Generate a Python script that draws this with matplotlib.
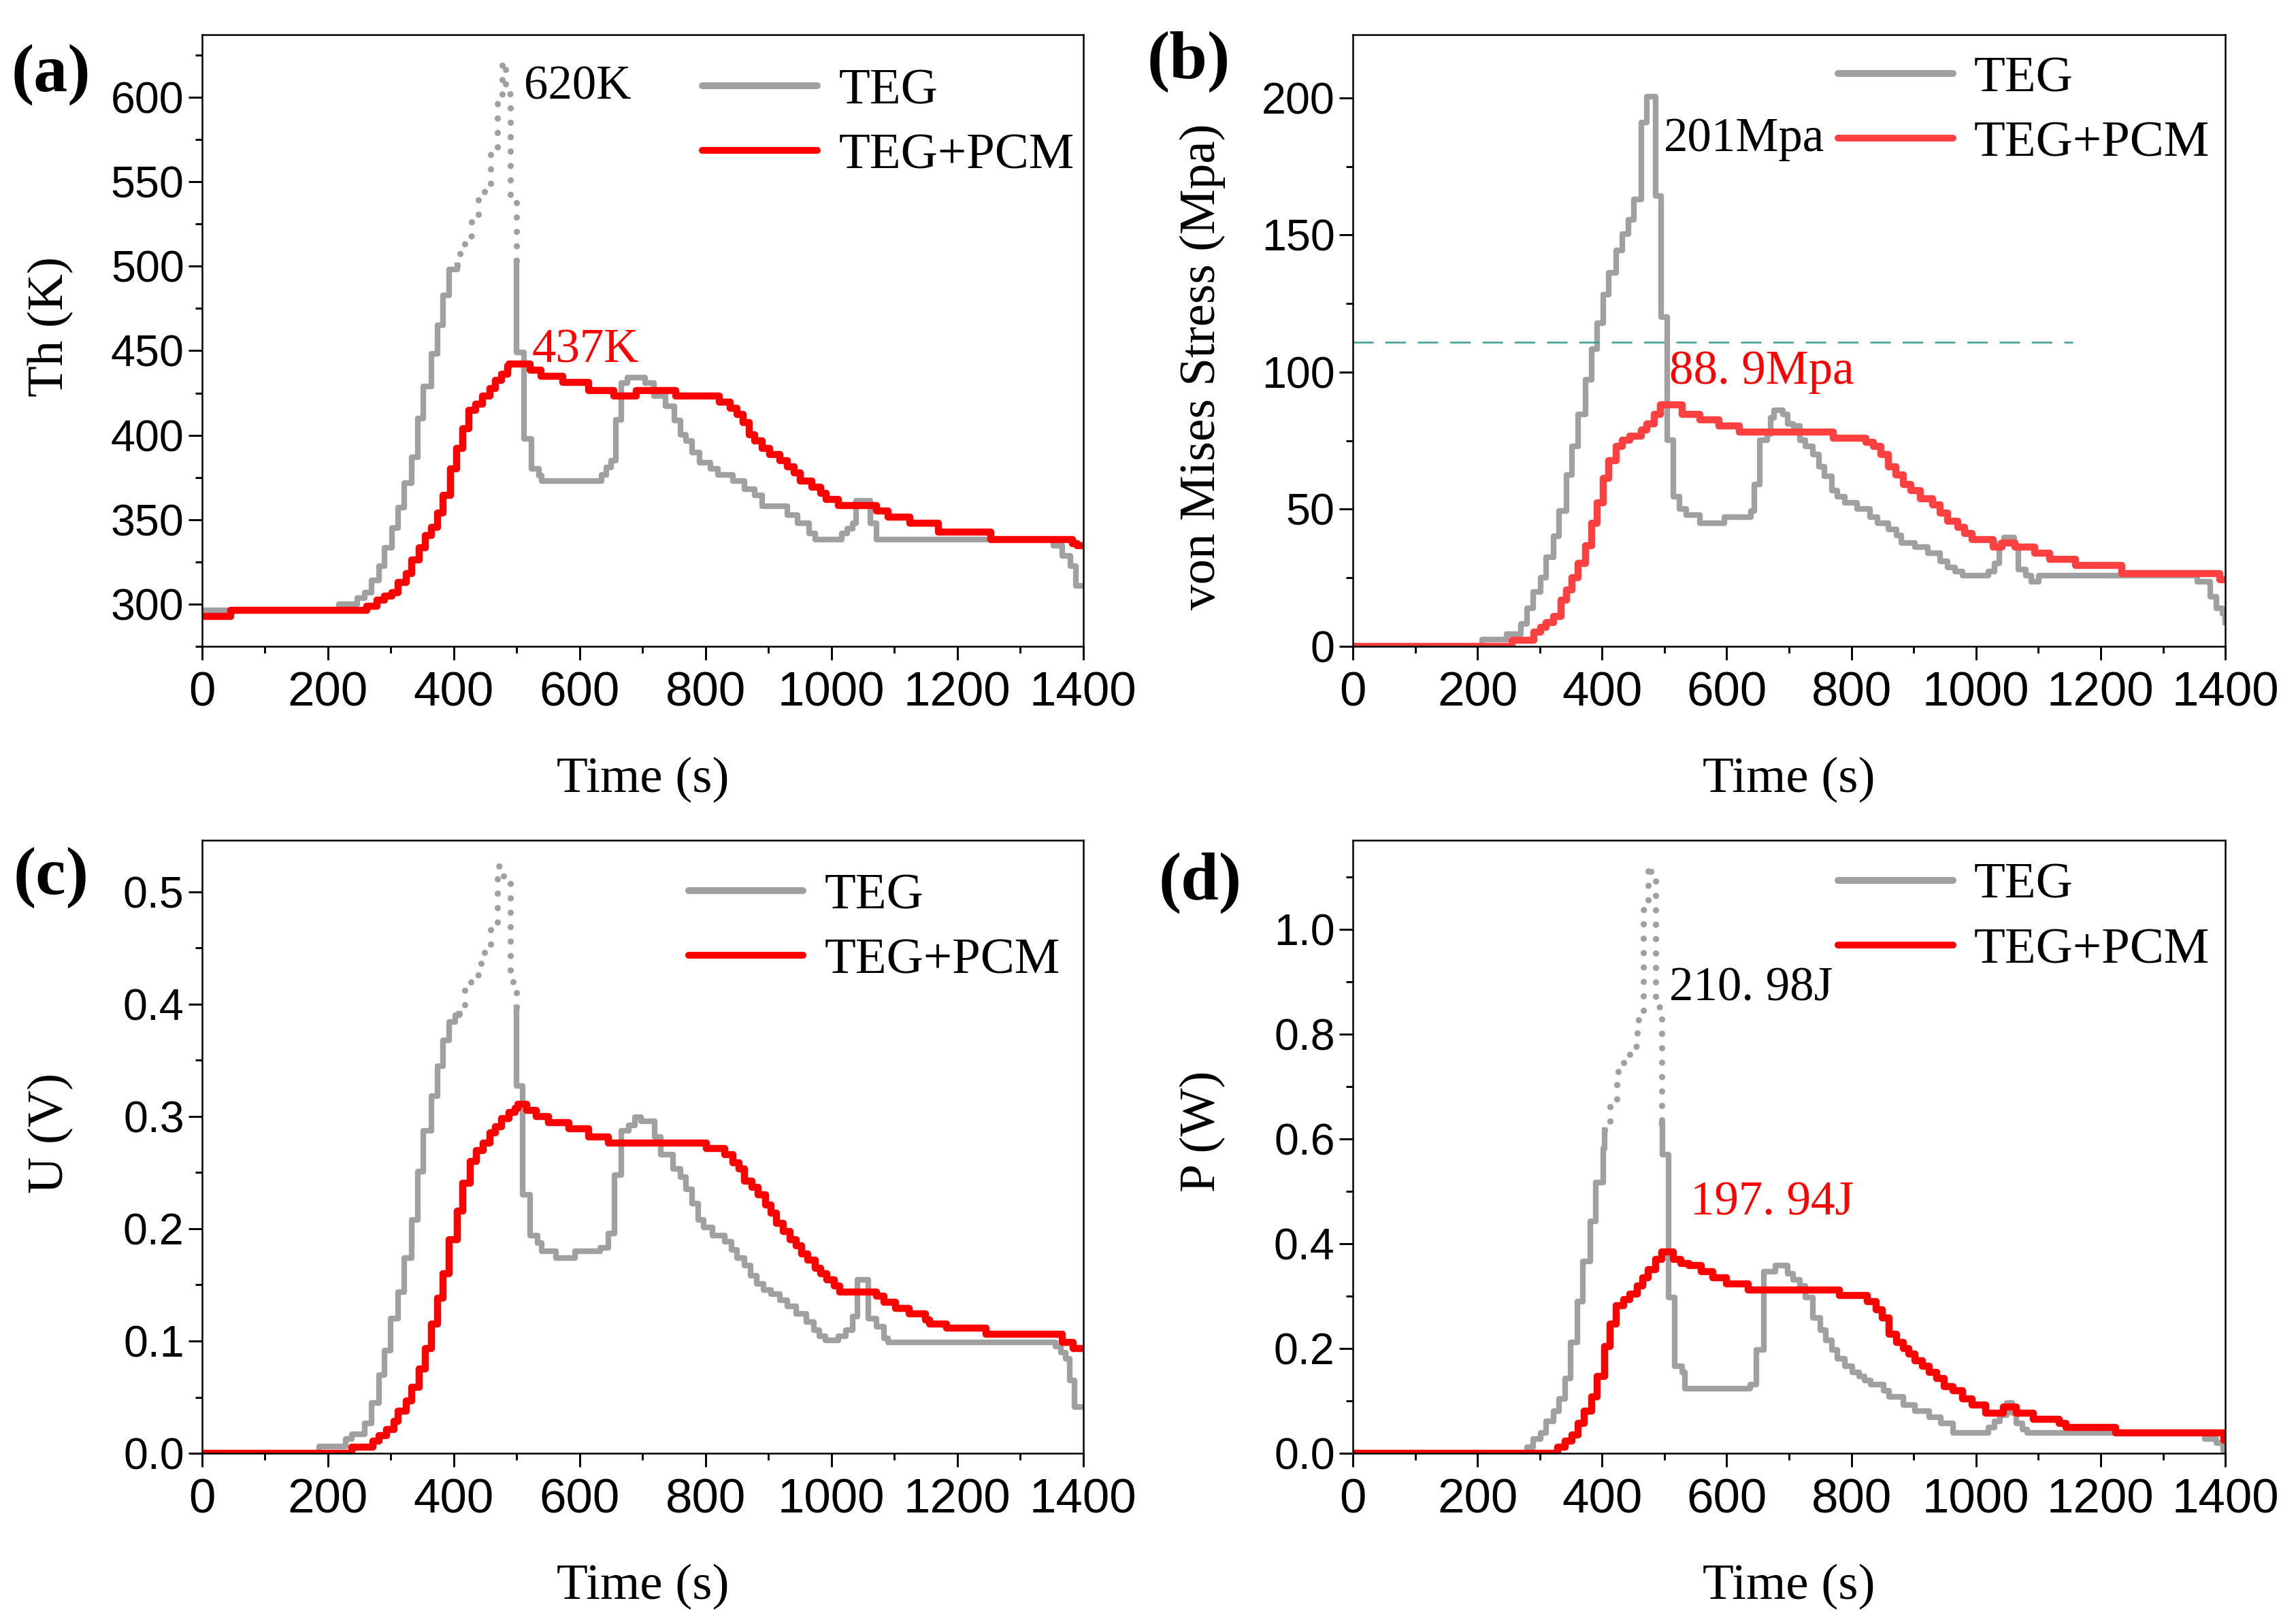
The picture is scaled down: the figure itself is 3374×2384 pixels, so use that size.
import matplotlib
matplotlib.use("Agg")
import matplotlib.pyplot as plt
from matplotlib import font_manager
import numpy as np

# ---- data (time in s) ----
# (a) hot side temperature, K
teg_t_a = [0, 217, 247, 259, 269, 281, 290, 302, 312, 321, 333, 343, 352, 364, 374, 383, 393, 405,
           410, 417, 428, 439, 449, 458, 469, 477, 482, 490, 500,
           500, 512, 523, 535, 540, 635, 642, 650, 657, 666, 676, 704, 718, 736, 750, 760, 769, 778,
           790, 808, 820, 843, 862, 878, 890, 930, 946, 964, 974, 1016, 1025, 1034, 1039, 1062, 1072,
           1353, 1367, 1380, 1388, 1400]
teg_v_a = [296.4, 300, 303.6, 307, 314, 322.7, 333.5, 345, 357, 371.7, 387, 410, 429, 448, 465, 482.8, 498, 500.7,
           510, 518, 530, 541, 548.5, 570, 600, 621, 602, 540, 503,
           449, 398, 380, 376, 373, 376.5, 381, 385, 409, 431, 434, 430.7, 423, 417, 408.7, 400.4, 396.8, 389.6,
           383.6, 380, 376.5, 372.9, 368, 364.5, 358, 352.6, 347.8, 341.8, 338.2, 341.8, 344.5, 348, 361, 348, 338.2,
           334.6, 328.7, 322.7, 310.8, 310.8]
pcm_t_a = [0, 45, 262, 278, 290, 302, 312, 324, 333, 345, 355, 364, 374, 383, 395, 404, 414, 424, 435, 445,
           457, 466, 476, 486, 488, 521, 538, 573, 614, 654, 690, 753, 822, 839, 850, 860, 869, 878, 890,
           902, 918, 930, 941, 950, 969, 983, 992, 1011, 1072, 1090, 1125, 1170, 1253, 1383, 1390, 1400]
pcm_v_a = [292.8, 296.4, 298.8, 302.4, 304.8, 307, 313, 318, 326, 333.5, 340.6, 345.4, 353.8, 364.5, 380, 392,
           404, 414.7, 418.3, 423, 427.8, 432.6, 436, 441, 442, 438.6, 435, 431.4, 426.6, 423, 426.6, 423,
           419.5, 416, 412.3, 407.5, 400.4, 396.8, 392, 388.4, 384.8, 381.2, 377.7, 372.9, 369.3, 365.7, 362,
           358.5, 355, 351.4, 347.8, 342.5, 338.2, 335.8, 334.6, 334.6]

# (b) von Mises stress, MPa
teg_t_b = [0, 207, 247, 270, 280, 289, 301, 310, 322, 331, 343, 352, 362, 373, 383, 392, 402, 411, 423, 432,
           442, 451, 463, 472, 486, 495, 505, 514, 524, 535, 557, 596, 639, 644, 653, 665, 670, 676, 690,
           698, 707, 717, 726, 738, 748, 757, 769, 778, 790, 809, 830, 842, 859, 873, 880, 902, 923, 942,
           954, 966, 978, 1020, 1030, 1037, 1045, 1061, 1068, 1080, 1089, 1101, 1355, 1376, 1386, 1395, 1400]
teg_v_b = [0, 2.5, 4.4, 8.1, 14, 19.9, 25, 32.4, 40.2, 49.4, 62.6, 73, 84.7, 97.3, 108.3, 117.9, 128.2, 136.3,
           144.4, 150.3, 155.5, 162.9, 190.9, 200.4, 164.3, 120.1, 75.2, 54.5, 50.1, 47.9, 45, 47.2, 49.4, 59,
           75.2, 77.4, 83.3, 86, 84.7, 81, 80.3, 75.2, 73, 70, 65.6, 61.9, 56.7, 54.5, 52.3, 50.1, 47.2, 45,
           42.7, 40.5, 37.6, 36.1, 33.9, 31, 28.7, 27.3, 25.8, 27.3, 30.2, 37.6, 39.8, 36.1, 28, 25.8, 23.6,
           25.8, 23.6, 18, 14, 11.8, 8.8]
pcm_t_b = [0, 256, 291, 301, 310, 322, 334, 343, 352, 362, 374, 383, 392, 402, 411, 423, 432, 444, 463, 472,
           484, 494, 528, 557, 587, 620, 771, 823, 835, 847, 859, 871, 883, 895, 911, 930, 942, 954, 971,
           982, 994, 1028, 1042, 1063, 1094, 1118, 1160, 1234, 1391, 1400]
pcm_v_b = [0, 2.2, 5.2, 6.9, 8.8, 11, 16.9, 20.6, 25, 30.2, 36.8, 45, 52.3, 61.2, 67.8, 73, 75.2, 76.6, 78.9,
           81, 84.7, 88, 84.7, 82.5, 80.3, 78.1, 75.9, 74.5, 73, 70, 65.6, 62.6, 59, 56.7, 53.8, 51.6, 48.6,
           45.7, 43.5, 41.3, 39, 36.1, 37.6, 36.1, 33.9, 31.7, 29.5, 26.5, 24.3, 24.3]
limit_b = 111
limit_end_b = 1155

# (c) voltage, V
teg_t_c = [0, 186, 228, 238, 259, 269, 281, 290, 300, 312, 321, 333, 343, 352, 364, 374, 383, 393, 402, 409,
           417, 427, 439, 449, 458, 469, 479, 490, 500,
           500, 509, 521, 533, 540, 562, 593, 633, 645, 655, 666, 678, 688, 697, 719, 729, 748, 760, 769,
           778, 788, 797, 811, 830, 841, 850, 862, 871, 881, 892, 904, 918, 930, 944, 960, 972, 981, 990,
           1011, 1023, 1034, 1041, 1058, 1072, 1083, 1090, 1356, 1365, 1372, 1379, 1386, 1400]
teg_v_c = [0, 0.006, 0.0126, 0.017, 0.027, 0.045, 0.07, 0.0916, 0.12, 0.1437, 0.174, 0.208, 0.251, 0.287,
           0.318, 0.345, 0.368, 0.384, 0.39, 0.3915,
           0.417, 0.426, 0.436, 0.448, 0.471, 0.523, 0.512, 0.42, 0.397,
           0.327, 0.23, 0.194, 0.187, 0.18, 0.174, 0.18, 0.183, 0.196, 0.248, 0.287, 0.292, 0.2992, 0.2956,
           0.282, 0.266, 0.253, 0.246, 0.235, 0.2227, 0.208, 0.201, 0.194, 0.1886, 0.1814, 0.174, 0.167,
           0.158, 0.151, 0.1455, 0.142, 0.1365, 0.131, 0.124, 0.1167, 0.1096, 0.104, 0.1006, 0.104, 0.1096,
           0.122, 0.1545, 0.12, 0.113, 0.1024, 0.0988, 0.095, 0.0898, 0.0844, 0.0647, 0.0413, 0.0413]
pcm_t_c = [0, 238, 271, 281, 293, 305, 312, 324, 333, 345, 355, 364, 374, 383, 393, 405, 414, 426, 436, 447,
           457, 466, 476, 488, 497, 502, 516, 531, 550, 583, 614, 645, 801, 830, 843, 853, 862, 874, 883,
           895, 904, 913, 923, 934, 944, 953, 962, 974, 983, 993, 1004, 1013, 1072, 1083, 1102, 1123, 1149,
           1156, 1183, 1246, 1367, 1384, 1400]
pcm_v_c = [0, 0.0054, 0.0108, 0.016, 0.0215, 0.0287, 0.0377, 0.0467, 0.059, 0.0754, 0.0934, 0.115, 0.138,
           0.16, 0.19, 0.2155, 0.2407, 0.26, 0.2694, 0.2766, 0.2856, 0.291, 0.298, 0.3035, 0.307, 0.3107,
           0.3053, 0.2999, 0.2945, 0.289, 0.282, 0.2766, 0.2712, 0.2658, 0.2586, 0.253, 0.2425, 0.237, 0.23,
           0.2209, 0.2137, 0.2047, 0.1975, 0.1904, 0.185, 0.1778, 0.1724, 0.165, 0.16, 0.1545, 0.149, 0.1437,
           0.14, 0.1347, 0.1293, 0.124, 0.1185, 0.115, 0.1113, 0.106, 0.0988, 0.0934, 0.0934]

# (d) power, W
teg_t_d = [0, 280, 289, 301, 310, 322, 331, 341, 350, 360, 369, 381, 390, 402, 404,
           413, 424, 435, 445, 456, 466, 474, 478, 486, 496,
           496, 497, 507, 517, 528, 533, 638, 648, 660, 678, 698, 707, 717, 726, 738, 750, 759, 769, 778,
           790, 802, 812, 821, 831, 852, 861, 883, 902, 925, 944, 963, 1020, 1030, 1039, 1049, 1058, 1065,
           1075, 1082, 1367, 1386, 1397, 1400]
teg_v_d = [0, 0.0116, 0.027, 0.0386, 0.0617, 0.081, 0.104, 0.1426, 0.212, 0.289, 0.366, 0.443, 0.5166, 0.582, 0.617,
           0.667, 0.7286, 0.7533, 0.777, 0.8265, 1.037, 1.122, 1.10, 0.852, 0.63,
           0.63, 0.57, 0.297, 0.166, 0.154, 0.1234, 0.131, 0.197, 0.347, 0.3585, 0.343, 0.3315, 0.32, 0.297,
           0.258, 0.235, 0.216, 0.197, 0.181, 0.166, 0.154, 0.1465, 0.139, 0.131, 0.1195, 0.108, 0.0925, 0.081,
           0.069, 0.0578, 0.0386, 0.05, 0.0617, 0.073, 0.096, 0.077, 0.0578, 0.046, 0.0386, 0.027, 0.0193,
           0.005, 0.0]
pcm_t_d = [0, 329, 341, 352, 362, 371, 383, 392, 404, 413, 423, 435, 444, 456, 465, 474, 486, 496, 514, 526,
           540, 559, 578, 599, 634, 781, 826, 840, 850, 861, 873, 883, 892, 902, 914, 925, 937, 949, 963, 978,
           994, 1016, 1044, 1065, 1092, 1134, 1144, 1224, 1398, 1400]
pcm_v_d = [0, 0.0116, 0.023, 0.0347, 0.0578, 0.081, 0.108, 0.1465, 0.2043, 0.2467, 0.2814, 0.293, 0.3045, 0.32,
           0.335, 0.351, 0.37, 0.385, 0.37, 0.3624, 0.3585, 0.347, 0.3354, 0.324, 0.3123, 0.3007, 0.289, 0.2737,
           0.258, 0.2274, 0.212, 0.2005, 0.189, 0.1773, 0.1658, 0.154, 0.1426, 0.127, 0.1195, 0.104, 0.0925,
           0.077, 0.0887, 0.077, 0.0655, 0.0578, 0.05, 0.0386, 0.025, 0.025]

GRAY = "#a0a0a0"

# tick numbers in the original use a narrow sans; fall back to the normal one if it is missing
_names = {f.name for f in font_manager.fontManager.ttflist}
if "Liberation Sans Narrow" in _names:
    TICK_FONT, XT_SIZE, YT_SIZE = "Liberation Sans Narrow", 20.5, 18
else:
    TICK_FONT, XT_SIZE, YT_SIZE = "Liberation Sans", 17, 15.5


def panel(rect, teg_t, teg_v, pcm_t, pcm_v, red, dots, ylim, ymaj, ymin, yfmt, ylabel, ylab_y, leg_xy):
    ax = fig.add_axes(rect)
    t = np.asarray(teg_t, float)
    v = np.asarray(teg_v, float)
    if dots is None:
        ax.plot(t, v, color=GRAY, lw=2.0, drawstyle="steps-post", label="TEG")
    else:
        i0, i1 = dots
        ax.plot(t[:i0 + 1], v[:i0 + 1], color=GRAY, lw=2.0, drawstyle="steps-post", label="TEG")
        ax.plot(t[i0:i1 + 1], v[i0:i1 + 1], color=GRAY, lw=2.2, ls=(0, (0.01, 2.3)),
                dash_capstyle="round", drawstyle="steps-post")
        ax.plot(t[i1:], v[i1:], color=GRAY, lw=2.0, drawstyle="steps-post")
    ax.plot(pcm_t, pcm_v, color=red, lw=2.5, drawstyle="steps-post", label="TEG+PCM")

    ax.set_xlim(0, 1400)
    ax.set_ylim(*ylim)
    xt = np.arange(0, 1401, 200)
    ax.set_xticks(xt)
    ax.set_xticklabels([str(x) for x in xt], fontfamily=TICK_FONT, fontsize=XT_SIZE)
    ax.set_xticks(np.arange(100, 1400, 200), minor=True)
    yt = np.arange(ymaj[0], ymaj[1] + ymaj[2] / 2, ymaj[2])
    ax.set_yticks(yt)
    ax.set_yticklabels([yfmt % y for y in yt], fontfamily=TICK_FONT, fontsize=YT_SIZE)
    ax.set_yticks(np.arange(ymin[0], ylim[1], ymin[1]), minor=True)
    ax.tick_params(which="major", direction="out", length=4.8, width=0.7, top=False, right=False)
    ax.tick_params(which="minor", direction="out", length=2.4, width=0.7, top=False, right=False)
    ax.tick_params(axis="x", pad=4.0)
    ax.tick_params(axis="y", pad=1.5)
    for s in ax.spines.values():
        s.set_linewidth(0.6)

    ax.set_xlabel("Time (s)", fontsize=18)
    ax.xaxis.label.set_va("center")
    ax.xaxis.set_label_coords(0.5, -0.218)
    ax.set_ylabel(ylabel, fontsize=18)
    ax.yaxis.label.set_va("center")
    ax.yaxis.set_label_coords(-0.172, ylab_y)

    leg = ax.legend(loc="upper left", bbox_to_anchor=leg_xy, frameon=False, fontsize=18,
                    handlelength=2.25, handletextpad=0.42, labelspacing=0.36, borderpad=0,
                    borderaxespad=0)
    for h in leg.get_lines():
        h.set_solid_capstyle("round")
        h.set_linewidth(2.4)
    return ax


fig = plt.figure(figsize=(3374 / 300, 2384 / 300), dpi=300)
plt.rcParams["font.family"] = ["Liberation Serif", "DejaVu Serif"]

# (a)
ax_a = panel([0.0880, 0.6015, 0.3838, 0.3771], teg_t_a, teg_v_a, pcm_t_a, pcm_v_a, "#ff0000",
             (17, 28), (278, 637), (300, 600, 50), (275, 25), "%d", "Th (K)", 0.523, (0.568, 0.946))
ax_a.text(512, 606, "620K", fontsize=17, va="center", ha="left", color="black")
ax_a.text(524, 450, "437K", fontsize=17, va="center", ha="left", color="#ff0000")

# (b)
ax_b = panel([0.5892, 0.6015, 0.3800, 0.3771], teg_t_b, teg_v_b, pcm_t_b, pcm_v_b, "#ff4040",
             None, (0, 223), (0, 200, 50), (0, 25), "%d", "von Mises Stress (Mpa)", 0.457, (0.556, 0.966))
ax_b.plot([0, limit_end_b], [limit_b, limit_b], color="#3a9a98", lw=0.6, dashes=(12, 7))
ax_b.text(499, 185, "201Mpa", fontsize=17, va="center", ha="left", color="black")
ax_b.text(508, 100, "88. 9Mpa", fontsize=17, va="center", ha="left", color="#ff0000")

# (c)
ax_c = panel([0.0880, 0.1040, 0.3838, 0.3780], teg_t_c, teg_v_c, pcm_t_c, pcm_v_c, "#ff0000",
             (19, 28), (0, 0.546), (0, 0.5, 0.1), (0, 0.05), "%.1f", "U (V)", 0.522, (0.552, 0.947))

# (d)
ax_d = panel([0.5892, 0.1040, 0.3800, 0.3780], teg_t_d, teg_v_d, pcm_t_d, pcm_v_d, "#ff0000",
             (14, 24), (0, 1.17), (0, 1.0, 0.2), (0, 0.1), "%.1f", "P (W)", 0.525, (0.556, 0.964))
ax_d.text(508, 0.887, "210. 98J", fontsize=17, va="center", ha="left", color="black")
ax_d.text(542, 0.478, "197. 94J", fontsize=17, va="center", ha="left", color="#ff0000")

# panel letters
for x, y, s in [(0.0222, 0.9539, "(a)"), (0.5178, 0.9618, "(b)"),
                (0.0222, 0.4589, "(c)"), (0.5228, 0.4555, "(d)")]:
    fig.text(x, y, s, fontsize=24, fontweight="bold", ha="center", va="center")

fig.savefig("out.png", dpi=300)
